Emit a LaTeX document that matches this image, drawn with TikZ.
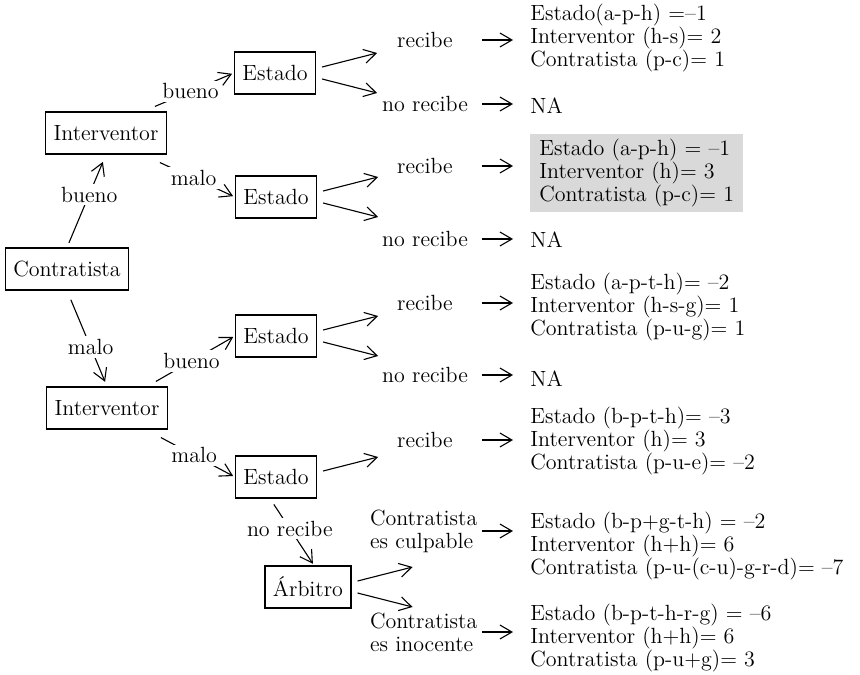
\documentclass[tikz,border=0pt]{standalone}
\usetikzlibrary{arrows.meta,positioning}

\begin{document}
\begin{tikzpicture}[
  x=0.5pt, y=-0.5pt,
  font=\fontsize{11}{11.5}\selectfont,
  player/.style={draw, line width=0.55pt, minimum height=21pt, inner xsep=4pt, inner ysep=2pt},
  move/.style={-{Straight Barb[length=6pt,width=7pt]}, line width=0.55pt},
  edge/.style={move, shorten >=1pt},
  choice/.style={fill=white, inner sep=1.5pt},
  act/.style={text width=55pt, align=center, inner sep=0pt},
  pay/.style={anchor=west, align=left, inner sep=0pt},
  tail/.style={move, shorten <=1pt, shorten >=8.5pt}
]
\useasboundingbox (0,0) rectangle (860,674);

% players
\node[player] (contr) at (67,269) {Contratista};
\node[player] (int1) at (106,133) {Interventor};
\node[player] (int2) at (107,408) {Interventor};
\node[player] (est1) at (275,73) {Estado};
\node[player] (est2) at (276,197) {Estado};
\node[player] (est3) at (276,336) {Estado};
\node[player] (est4) at (276,477) {Estado};
\node[player] (arb) at (308,587) {Árbitro};

% actions of Estado / Arbitro
\node[act] (r1) at (425,40) {recibe};
\node[act] (n1) at (425,104) {no recibe};
\node[act] (r2) at (425,166) {recibe};
\node[act] (n2) at (425,239) {no recibe};
\node[act] (r3) at (425,303) {recibe};
\node[act] (n3) at (425,375) {no recibe};
\node[act] (r4) at (425,440) {recibe};
\node[act, align=left] (culp) at (425,531) {Contratista\\es culpable};
\node[act, align=left] (inoc) at (425,632) {Contratista\\es inocente};

% payoffs
\node[pay] (p1) at (530,38) {Estado(a-p-h) =--1\\Interventor (h-s)= 2\\Contratista (p-c)= 1};
\node[pay] (na1) at (530,106) {NA};
\node[pay, fill=gray!30, inner xsep=4.5pt, inner ysep=2.5pt] (p2) at (530,173)
  {Estado (a-p-h) = --1\\Interventor (h)= 3\\Contratista (p-c)= 1};
\node[pay] (na2) at (530,240) {NA};
\node[pay] (p3) at (530,307) {Estado (a-p-t-h)= --2\\Interventor (h-s-g)= 1\\Contratista (p-u-g)= 1};
\node[pay] (na3) at (530,379) {NA};
\node[pay] (p4) at (530,441) {Estado (b-p-t-h)= --3\\Interventor (h)= 3\\Contratista (p-u-e)= --2};
\node[pay] (p5) at (530,546) {Estado (b-p+g-t-h) = --2\\Interventor (h+h)= 6\\Contratista (p-u-(c-u)-g-r-d)= --7};
\node[pay] (p6) at (530,638) {Estado (b-p-t-h-r-g) = --6\\Interventor (h+h)= 6\\Contratista (p-u+g)= 3};

% tree edges
\draw[edge, shorten <=2.5pt, shorten >=4pt] (contr.north) -- node[choice, pos=0.57] {bueno} (int1.south);
\draw[edge, shorten <=5pt, shorten >=2.5pt] (contr.south) -- node[choice, pos=0.59] {malo} (int2.north);
\draw[edge] ([shift={(-12,-5)}]int1.north east) -- node[choice, pos=0.45] {bueno} (est1.west);
\draw[edge] ([shift={(-7,8)}]int1.south east) -- node[choice, pos=0.45] {malo} (est2.west);
\draw[edge] ([shift={(-12,-5)}]int2.north east) -- node[choice, pos=0.45] {bueno} (est3.west);
\draw[edge] ([shift={(-7,8)}]int2.south east) -- node[choice, pos=0.45] {malo} (est4.west);
\draw[edge, shorten <=3.5pt] ([shift={(-6,0)}]est4.south) -- node[choice, pos=0.45] {no recibe} ([shift={(6,0)}]arb.north);

% branches to the actions
\foreach \e in {est1,est2,est3,arb}{
  \coordinate (\e-hi) at ([shift={(61,-20)}]\e.east);
  \coordinate (\e-lo) at ([shift={(61,20)}]\e.east);
  \draw[move] ([shift={(6,-6)}]\e.east) -- (\e-hi);
  \draw[move] ([shift={(6,6)}]\e.east) -- (\e-lo);
}
\coordinate (est4-hi) at ([shift={(61,-20)}]est4.east);
\draw[move] ([shift={(6,-6)}]est4.east) -- (est4-hi);

% actions to payoffs
\foreach \a/\p in {r1/p1, n1/na1, r2/p2, n2/na2, r3/p3, n3/na3, r4/p4, culp/p5, inoc/p6}
  \draw[tail] (\a.east) -- (\a.east -| \p.west);
\end{tikzpicture}
\end{document}
